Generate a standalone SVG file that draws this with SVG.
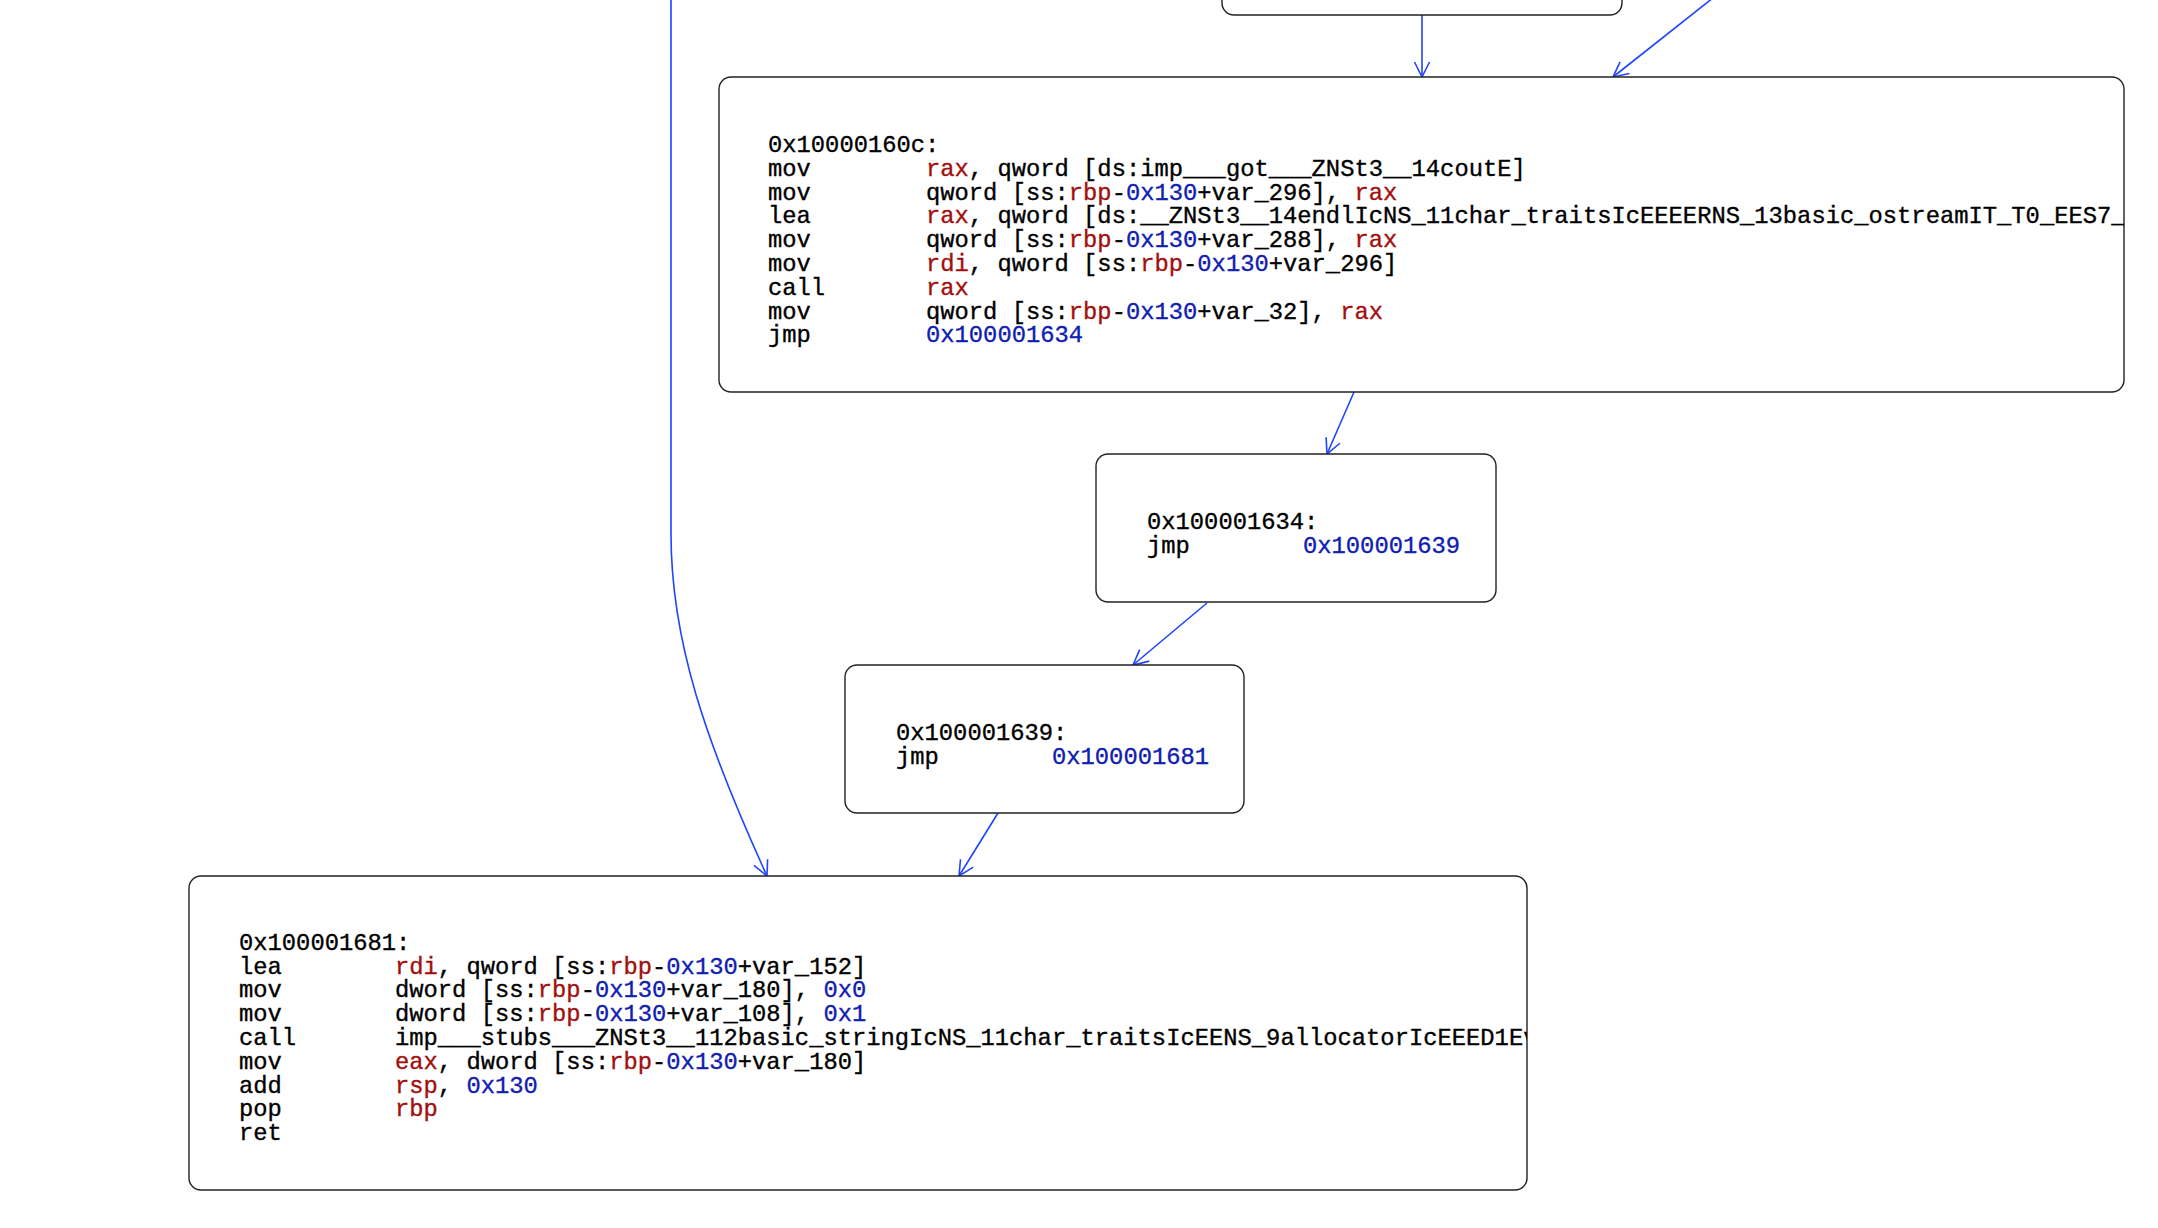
<svg xmlns="http://www.w3.org/2000/svg" width="2158" height="1228" viewBox="0 0 2158 1228">
<style>
.bg{fill:#ffffff}
.box{fill:#ffffff;stroke:#222222;stroke-width:1.4}
.t{font-family:"Liberation Mono","Courier New",monospace;font-size:23.8px;fill:#000000;stroke:#000000;stroke-width:0.35}
.r{fill:#a20f0f;stroke:#a20f0f}
.n{fill:#1020b0;stroke:#1020b0}
.e{fill:none;stroke:#1f45fc;stroke-width:1.6}
</style>
<defs>
<marker id="ah" viewBox="-16 -9 18 18" markerWidth="18" markerHeight="18" refX="0" refY="0" orient="auto" markerUnits="userSpaceOnUse">
<path d="M-15,-7.5 L0,0 L-15,7.5" fill="none" stroke="#1f45fc" stroke-width="1.6"/>
</marker>
<clipPath id="cMain"><rect x="719" y="77" width="1405" height="315" rx="12"/></clipPath>
<clipPath id="cBottom"><rect x="189" y="876" width="1338" height="314" rx="12"/></clipPath>
</defs>
<rect class="bg" x="0" y="0" width="2158" height="1228"/>

<g id="edges">
<path class="e" d="M1422,15 L1422,77" marker-end="url(#ah)"/>
<path class="e" d="M1723,-10 L1613,77" marker-end="url(#ah)"/>
<path class="e" d="M1354,392 L1327,454" marker-end="url(#ah)"/>
<path class="e" d="M1207,603 L1133,665" marker-end="url(#ah)"/>
<path class="e" d="M998,813 L959,876" marker-end="url(#ah)"/>
<path class="e" d="M671,-10 L671,534 C671,640 705,740 767,876" marker-end="url(#ah)"/>
</g>

<g id="node-top">
<rect class="box" x="1222" y="-60" width="400" height="75" rx="12"/>
</g>

<g id="node-0x10000160c">
<rect class="box" x="719" y="77" width="1405" height="315" rx="12"/>
<g clip-path="url(#cMain)">
<text class="t" x="768" y="152">0x10000160c:</text>
<text class="t" x="768" y="176">mov</text>
<text class="t" x="926" y="176"><tspan class="r">rax</tspan>, qword [ds:imp___got___ZNSt3__14coutE]</text>
<text class="t" x="768" y="200">mov</text>
<text class="t" x="926" y="200">qword [ss:<tspan class="r">rbp</tspan>-<tspan class="n">0x130</tspan>+var_296], <tspan class="r">rax</tspan></text>
<text class="t" x="768" y="223">lea</text>
<text class="t" x="926" y="223"><tspan class="r">rax</tspan>, qword [ds:__ZNSt3__14endlIcNS_11char_traitsIcEEEERNS_13basic_ostreamIT_T0_EES7_]</text>
<text class="t" x="768" y="247">mov</text>
<text class="t" x="926" y="247">qword [ss:<tspan class="r">rbp</tspan>-<tspan class="n">0x130</tspan>+var_288], <tspan class="r">rax</tspan></text>
<text class="t" x="768" y="271">mov</text>
<text class="t" x="926" y="271"><tspan class="r">rdi</tspan>, qword [ss:<tspan class="r">rbp</tspan>-<tspan class="n">0x130</tspan>+var_296]</text>
<text class="t" x="768" y="295">call</text>
<text class="t" x="926" y="295"><tspan class="r">rax</tspan></text>
<text class="t" x="768" y="319">mov</text>
<text class="t" x="926" y="319">qword [ss:<tspan class="r">rbp</tspan>-<tspan class="n">0x130</tspan>+var_32], <tspan class="r">rax</tspan></text>
<text class="t" x="768" y="342">jmp</text>
<text class="t n" x="926" y="342">0x100001634</text>
</g>
</g>

<g id="node-0x100001634">
<rect class="box" x="1096" y="454" width="400" height="148" rx="12"/>
<text class="t" x="1147" y="529">0x100001634:</text>
<text class="t" x="1147" y="553">jmp</text>
<text class="t n" x="1303" y="553">0x100001639</text>
</g>

<g id="node-0x100001639">
<rect class="box" x="845" y="665" width="399" height="148" rx="12"/>
<text class="t" x="896" y="740">0x100001639:</text>
<text class="t" x="896" y="764">jmp</text>
<text class="t n" x="1052" y="764">0x100001681</text>
</g>

<g id="node-0x100001681">
<rect class="box" x="189" y="876" width="1338" height="314" rx="12"/>
<g clip-path="url(#cBottom)">
<text class="t" x="239" y="950">0x100001681:</text>
<text class="t" x="239" y="974">lea</text>
<text class="t" x="395" y="974"><tspan class="r">rdi</tspan>, qword [ss:<tspan class="r">rbp</tspan>-<tspan class="n">0x130</tspan>+var_152]</text>
<text class="t" x="239" y="997">mov</text>
<text class="t" x="395" y="997">dword [ss:<tspan class="r">rbp</tspan>-<tspan class="n">0x130</tspan>+var_180], <tspan class="n">0x0</tspan></text>
<text class="t" x="239" y="1021">mov</text>
<text class="t" x="395" y="1021">dword [ss:<tspan class="r">rbp</tspan>-<tspan class="n">0x130</tspan>+var_108], <tspan class="n">0x1</tspan></text>
<text class="t" x="239" y="1045">call</text>
<text class="t" x="395" y="1045">imp___stubs___ZNSt3__112basic_stringIcNS_11char_traitsIcEENS_9allocatorIcEEED1Ev</text>
<text class="t" x="239" y="1069">mov</text>
<text class="t" x="395" y="1069"><tspan class="r">eax</tspan>, dword [ss:<tspan class="r">rbp</tspan>-<tspan class="n">0x130</tspan>+var_180]</text>
<text class="t" x="239" y="1093">add</text>
<text class="t" x="395" y="1093"><tspan class="r">rsp</tspan>, <tspan class="n">0x130</tspan></text>
<text class="t" x="239" y="1116">pop</text>
<text class="t" x="395" y="1116"><tspan class="r">rbp</tspan></text>
<text class="t" x="239" y="1140">ret</text>
</g>
</g>
</svg>
